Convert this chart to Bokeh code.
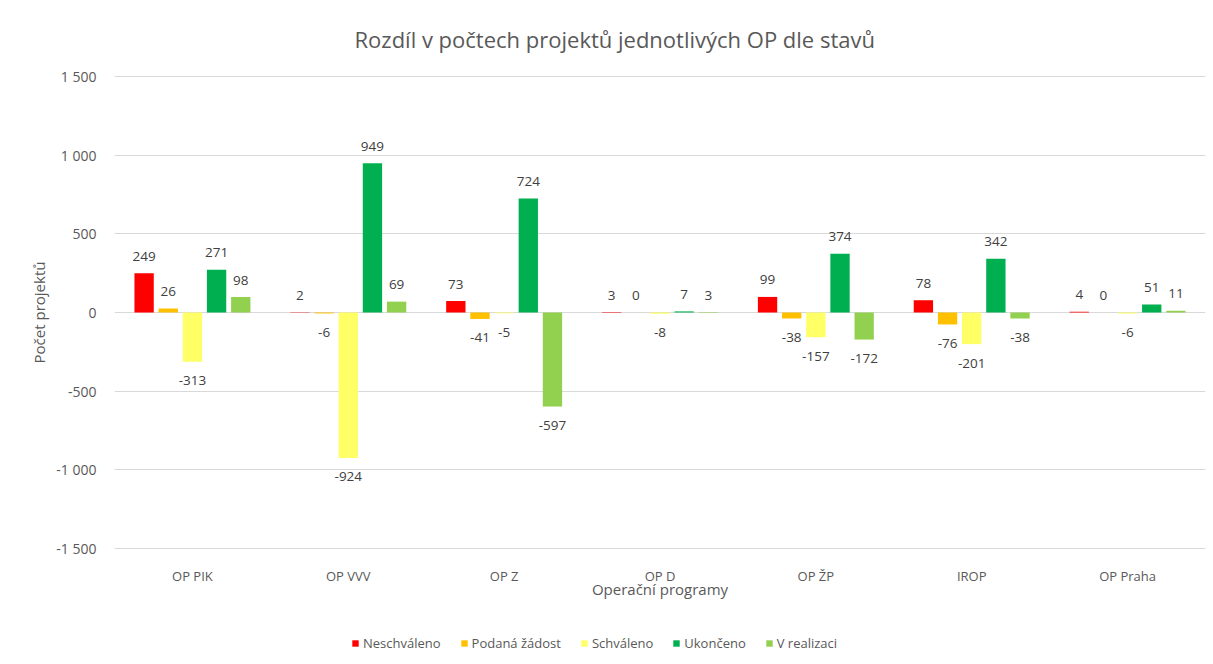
from bokeh.plotting import figure
from bokeh.layouts import column
from bokeh.models import (FactorRange, Range1d, FixedTicker, Legend,
                          LegendItem, ColumnDataSource)
from bokeh.transform import dodge
from bokeh.core.properties import value
from bokeh.embed import file_html
from bokeh.resources import INLINE

programs = ["OP PIK", "OP VVV", "OP Z", "OP D", "OP ŽP", "IROP", "OP Praha"]
neschvaleno = [249, 2, 73, 3, 99, 78, 4]
podana_zadost = [26, -6, -41, 0, -38, -76, 0]
schvaleno = [-313, -924, -5, -8, -157, -201, -6]
ukonceno = [271, 949, 724, 7, 374, 342, 51]
v_realizaci = [98, 69, -597, 3, -172, -38, 11]
series_names = ["Neschváleno", "Podaná žádost", "Schváleno", "Ukončeno", "V realizaci"]
series_values = [neschvaleno, podana_zadost, schvaleno, ukonceno, v_realizaci]
colors = ["#FF0000", "#FFC000", "#FFFF66", "#00B050", "#92D050"]
y_ticks = [-1500, -1000, -500, 0, 500, 1000, 1500]

FONT = "Open Sans"
TXT = "#595959"

p = figure(frame_width=1091, frame_height=474,
           x_range=FactorRange(factors=programs),
           y_range=Range1d(-1506.36, 1506.36), output_backend="svg",
           toolbar_location=None, min_border_left=114, min_border_right=8,
           min_border_top=75, min_border_bottom=75)
p.outline_line_color = None
p.background_fill_color = "white"
p.border_fill_color = "white"

p.title.text = "Rozdíl v počtech projektů jednotlivých OP dle stavů"
p.title.align = "left"
p.title.offset = 240
p.title.standoff = 43
p.title.text_font = FONT
p.title.text_font_size = "22px"
p.title.text_font_style = "normal"
p.title.text_color = TXT

p.xgrid.grid_line_color = None
p.ygrid.grid_line_color = "#D9D9D9"
p.ygrid.grid_line_width = 1

p.yaxis.ticker = FixedTicker(ticks=y_ticks)
p.yaxis.major_label_overrides = {t: f"{t:,}".replace(",", " ") for t in y_ticks}
p.yaxis.minor_tick_line_color = None
for ax in (p.xaxis[0], p.yaxis[0]):
    ax.axis_line_color = None
    ax.major_tick_line_color = None
    ax.major_label_text_font = FONT
    ax.major_label_text_color = TXT
    ax.axis_label_text_font = FONT
    ax.axis_label_text_font_size = "15px"
    ax.axis_label_text_font_style = "normal"
    ax.axis_label_text_color = TXT
p.yaxis.major_label_text_font_size = "14px"
p.xaxis.major_label_text_font_size = "13px"
p.yaxis.major_label_standoff = 12
p.xaxis.major_label_standoff = 11
p.yaxis.axis_label = "Počet projektů"
p.yaxis.axis_label_standoff = 4
p.xaxis.axis_label = "Operační programy"
p.xaxis.axis_label_standoff = -9

step = 0.155
width = 0.124
for i, (name, vals, col) in enumerate(zip(series_names, series_values, colors)):
    off = (i - 2) * step
    src = ColumnDataSource(dict(
        op=programs, val=vals,
        lbl=[str(v) for v in vals],
        yo=[-17 if v >= 0 else 19 for v in vals],
    ))
    p.vbar(x=dodge("op", off, range=p.x_range), top="val", bottom=0,
           width=width, source=src, fill_color=col, line_color=None)
    p.text(x=dodge("op", off, range=p.x_range), y="val", text="lbl",
           y_offset="yo", text_align="center", text_baseline="middle",
           text_font=value(FONT), text_font_size="13.5px", text_color="#404040",
           source=src)

# legend strip underneath the chart (its frame is aligned with the chart's frame)
lg = figure(width=1213, height=40, x_range=Range1d(0, 1), y_range=Range1d(0, 1),
            x_axis_type=None, y_axis_type=None, output_backend="svg",
            toolbar_location=None, min_border=0)
lg.outline_line_color = None
lg.xgrid.visible = False
lg.ygrid.visible = False
items = []
for name, col in zip(series_names, colors):
    # zero-size key glyph: only its legend swatch is visible
    r = lg.vbar(x=[0.5], top=[0], bottom=[0], width=0, fill_color=col,
                line_color=None)
    items.append(LegendItem(label=name, renderers=[r]))
legend = Legend(items=items, orientation="horizontal", location=(237, 12),
                glyph_width=8, glyph_height=8, label_standoff=4, spacing=19,
                padding=0, margin=0, background_fill_alpha=0,
                border_line_color=None, label_text_font=FONT,
                label_text_font_size="13px", label_text_color=TXT)
lg.add_layout(legend, "center")

layout = column(p, lg, spacing=0)
open("out.html", "w").write(file_html(layout, INLINE))
